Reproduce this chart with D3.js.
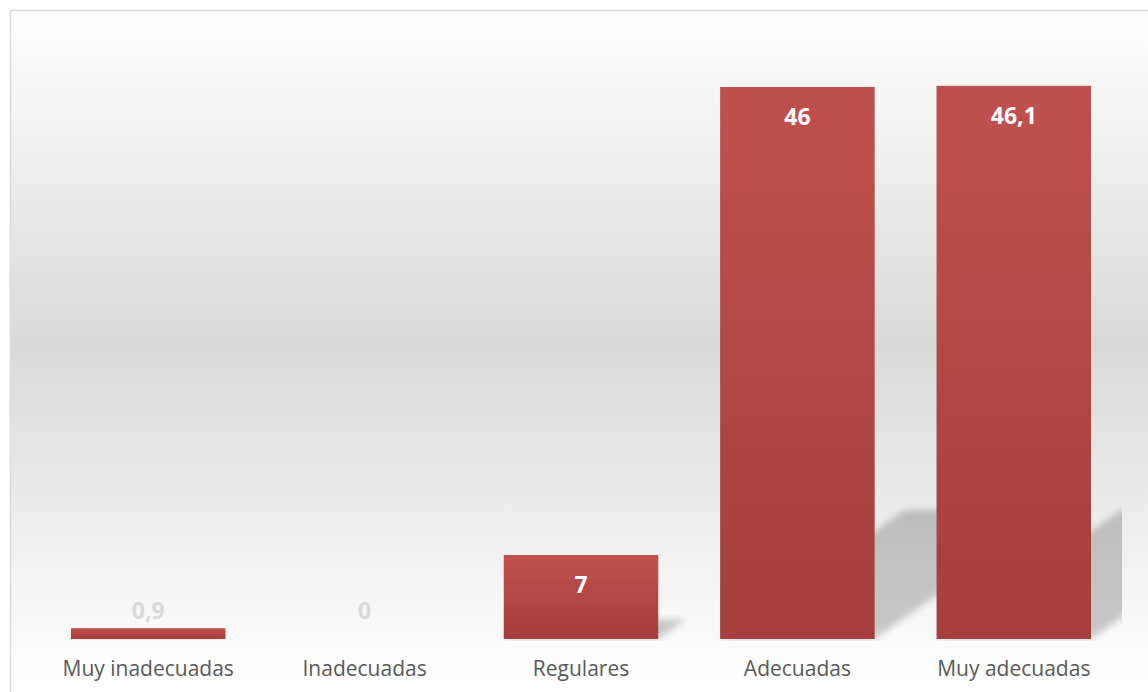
<!DOCTYPE html>
<html>
<head>
<meta charset="utf-8">
<script src="https://cdn.jsdelivr.net/npm/d3@7"></script>
<style>
  html, body { margin: 0; padding: 0; background: #ffffff; }
  svg { display: block; }
</style>
</head>
<body>
<svg id="chart" width="1148" height="692"></svg>
<script>
// Valoración de las actividades (%)
const categories = ["Muy inadecuadas", "Inadecuadas", "Regulares", "Adecuadas", "Muy adecuadas"];
const values = [0.9, 0, 7, 46, 46.1];
const valueLabels = ["0,9", "0", "7", "46", "46,1"];

const W = 1148, H = 692;
const plot = { left: 40, right: 1122, top: 39, bottom: 639 };

const svg = d3.select("#chart");
const defs = svg.append("defs");

// Chart-area background: white → light gray → white
const bg = defs.append("linearGradient")
  .attr("id", "bgGrad").attr("gradientUnits", "userSpaceOnUse")
  .attr("x1", 0).attr("y1", 10).attr("x2", 0).attr("y2", 680);
bg.append("stop").attr("offset", "0%").attr("stop-color", "#ffffff");
bg.append("stop").attr("offset", "50%").attr("stop-color", "#d9d9d9");
bg.append("stop").attr("offset", "100%").attr("stop-color", "#ffffff");

// Bar fill: red, slightly darker toward the base
const barGrad = defs.append("linearGradient")
  .attr("id", "barGrad").attr("x1", 0).attr("y1", 0).attr("x2", 0).attr("y2", 1);
barGrad.append("stop").attr("offset", "0%").attr("stop-color", "#c0504d");
barGrad.append("stop").attr("offset", "100%").attr("stop-color", "#a53e3c");

// Soft shadow blur
defs.append("filter").attr("id", "shadowBlur")
  .attr("x", "-20%").attr("y", "-20%").attr("width", "140%").attr("height", "140%")
  .append("feGaussianBlur").attr("stdDeviation", 3.8);

defs.append("clipPath").attr("id", "plotClip")
  .append("rect")
  .attr("x", plot.left).attr("y", plot.top - 10)
  .attr("width", plot.right - plot.left).attr("height", plot.bottom - plot.top + 12);

svg.append("rect")
  .attr("x", 10.5).attr("y", 10.5)
  .attr("width", W + 20).attr("height", H + 20)
  .attr("fill", "url(#bgGrad)")
  .attr("stroke", "#d9d9d9").attr("stroke-width", 1.5);

const x = d3.scaleBand()
  .domain(categories)
  .range([plot.left, plot.right])
  .paddingInner(0.286)
  .paddingOuter(0.143);

const y = d3.scaleLinear()
  .domain([0, 50])
  .range([plot.bottom, plot.top]);

const data = categories.map((c, i) => ({ cat: c, value: values[i], label: valueLabels[i] }));

// Perspective shadows cast up and to the right of each bar
const skewX = 0.335, skewY = 0.234;
const shadowG = svg.append("g").attr("clip-path", "url(#plotClip)");
shadowG.selectAll("polygon")
  .data(data.filter(d => d.value > 0))
  .join("polygon")
  .attr("points", d => {
    const x0 = x(d.cat), x1 = x0 + x.bandwidth();
    const base = y(0), h = base - y(d.value);
    return [
      [x0, base], [x1, base],
      [x1 + skewX * h, base - skewY * h],
      [x0 + skewX * h, base - skewY * h]
    ].map(p => p.join(",")).join(" ");
  })
  .attr("fill", "#000")
  .attr("fill-opacity", 0.2)
  .attr("filter", "url(#shadowBlur)");

// Bars
svg.append("g").selectAll("rect")
  .data(data.filter(d => d.value > 0))
  .join("rect")
  .attr("x", d => x(d.cat))
  .attr("y", d => y(d.value))
  .attr("width", x.bandwidth())
  .attr("height", d => y(0) - y(d.value))
  .attr("fill", "url(#barGrad)");

// Value labels: inside the top of tall bars, above short ones
const insideMin = 40;
svg.append("g").selectAll("text")
  .data(data)
  .join("text")
  .attr("x", d => x(d.cat) + x.bandwidth() / 2)
  .attr("y", d => {
    const top = y(d.value), hgt = y(0) - top;
    return hgt > insideMin ? top + 29 : Math.min(top - 17, y(0) - 29);
  })
  .attr("text-anchor", "middle")
  .attr("dominant-baseline", "central")
  .attr("font-family", "'Open Sans', sans-serif")
  .attr("font-weight", "bold")
  .attr("font-size", 23)
  .attr("fill", d => (y(0) - y(d.value)) > insideMin ? "#ffffff" : "#d9d9d9")
  .text(d => d.label);

// Category axis labels
const xAxis = d3.axisBottom(x).tickSize(0).tickPadding(0);
const axisG = svg.append("g")
  .attr("transform", `translate(0,${plot.bottom})`)
  .call(xAxis);
axisG.select(".domain").remove();
axisG.selectAll("text")
  .attr("y", 29)
  .attr("dy", null)
  .attr("dominant-baseline", "central")
  .attr("font-family", "'Open Sans', sans-serif")
  .attr("font-size", 21)
  .attr("fill", "#595959");
</script>
</body>
</html>
